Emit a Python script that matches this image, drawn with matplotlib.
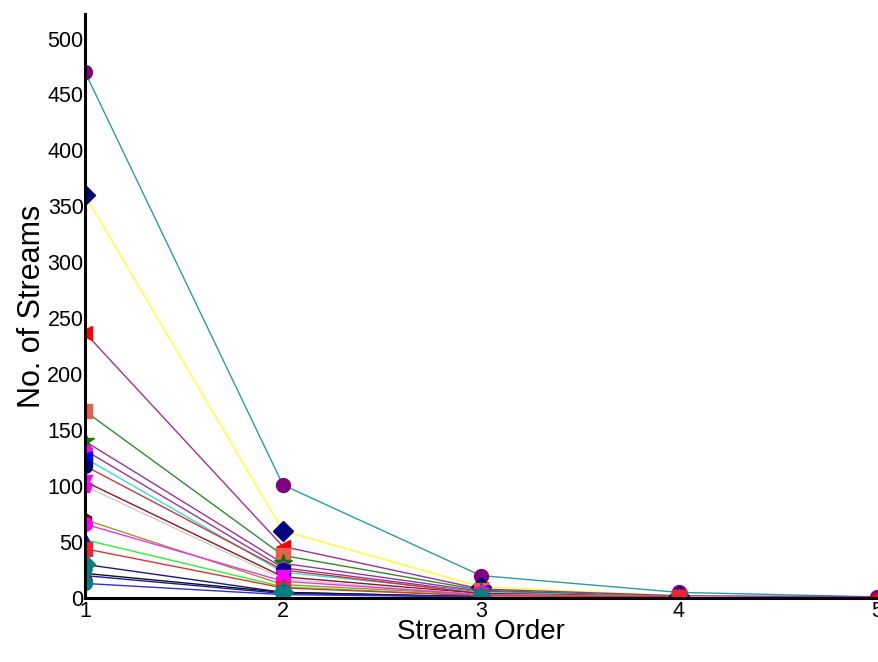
import matplotlib
matplotlib.use("Agg")
import matplotlib.pyplot as plt

plt.rcParams['font.family'] = ['Liberation Sans', 'DejaVu Sans']

# Stream order (x) and number of streams per basin
orders = [1, 2, 3, 4, 5]

b01 = [470, 101, 20, 5, 1]
b02 = [360, 60, 10, 2]
b03 = [237, 46, 8, 2, 1]
b04 = [167, 38, 7, 1]
b05 = [140, 31, 6, 1]
b06 = [132, 27, 5, 1]
b07 = [125, 23, 5, 1]
b08 = [118, 25, 4, 1]
b09 = [104, 19, 4, 1]
b10 = [100, 17, 3, 1]
b11 = [70, 12, 3, 1]
b12 = [66, 15, 3, 1]
b13 = [52, 10, 2, 1]
b14 = [44, 9, 2, 1]
b15 = [30, 5, 1]
b16 = [22, 5, 1]
b17 = [20, 4, 1]
b18 = [13, 3, 1]

basins = [b01, b02, b03, b04, b05, b06, b07, b08, b09, b10,
          b11, b12, b13, b14, b15, b16, b17, b18]

# (marker, marker colour, line colour) for each basin
styles = [
    ('o', '#800080', '#2a9d9d'),
    ('D', '#000080', '#ffff33'),
    ('<', '#ff0000', '#993399'),
    ('s', '#e8604c', '#2e8b2e'),
    ('*', '#008000', '#993399'),
    ('p', '#ff00ff', '#993399'),
    ('<', '#0000ff', '#33dddd'),
    ('o', '#000080', '#cc3333'),
    ('v', '#ff00ff', '#8b1a1a'),
    ('p', '#ff00ff', '#cccccc'),
    ('h', '#800000', '#999933'),
    ('o', '#ff00ff', '#ee33ee'),
    ('^', '#0000ff', '#33ee33'),
    ('s', '#ee2233', '#dd3333'),
    ('D', '#008080', '#1a1a80'),
    ('^', '#800080', '#111111'),
    ('v', '#008080', '#1a1a99'),
    ('o', '#008080', '#3333cc'),
]

fig = plt.figure(figsize=(8.79, 6.62), dpi=100)
ax = fig.add_axes([0.0967, 0.0967, 0.9010, 0.8823])

for vals, (mk, mc, lc) in zip(basins, styles):
    xs = orders[:len(vals)]
    ax.plot(xs, vals, color=lc, lw=1.0, zorder=2)
for vals, (mk, mc, lc) in zip(basins, styles):
    xs = orders[:len(vals)]
    ms = 13 if mk == '*' else 10
    ax.plot(xs, vals, ls='none', marker=mk, ms=ms, mfc=mc, mec=mc, zorder=3)

ax.set_xlim(1, 5)
ax.set_ylim(0, 522)
ax.set_xticks(orders)
ax.set_yticks(range(0, 501, 50))

for side in ('top', 'right'):
    ax.spines[side].set_visible(False)
for side in ('left', 'bottom'):
    ax.spines[side].set_linewidth(2.2)
    ax.spines[side].set_color('black')
    ax.spines[side].set_zorder(4)

ax.tick_params(axis='both', length=0, labelsize=15.5)
ax.tick_params(axis='y', pad=1)
ax.tick_params(axis='x', pad=2)

ax.set_xlabel('Stream Order', fontsize=20)
ax.xaxis.set_label_coords(0.5, -0.036)
ax.set_ylabel('No. of Streams', fontsize=22)
ax.yaxis.set_label_coords(-0.048, 0.5)

fig.savefig('out.png', dpi=100)
